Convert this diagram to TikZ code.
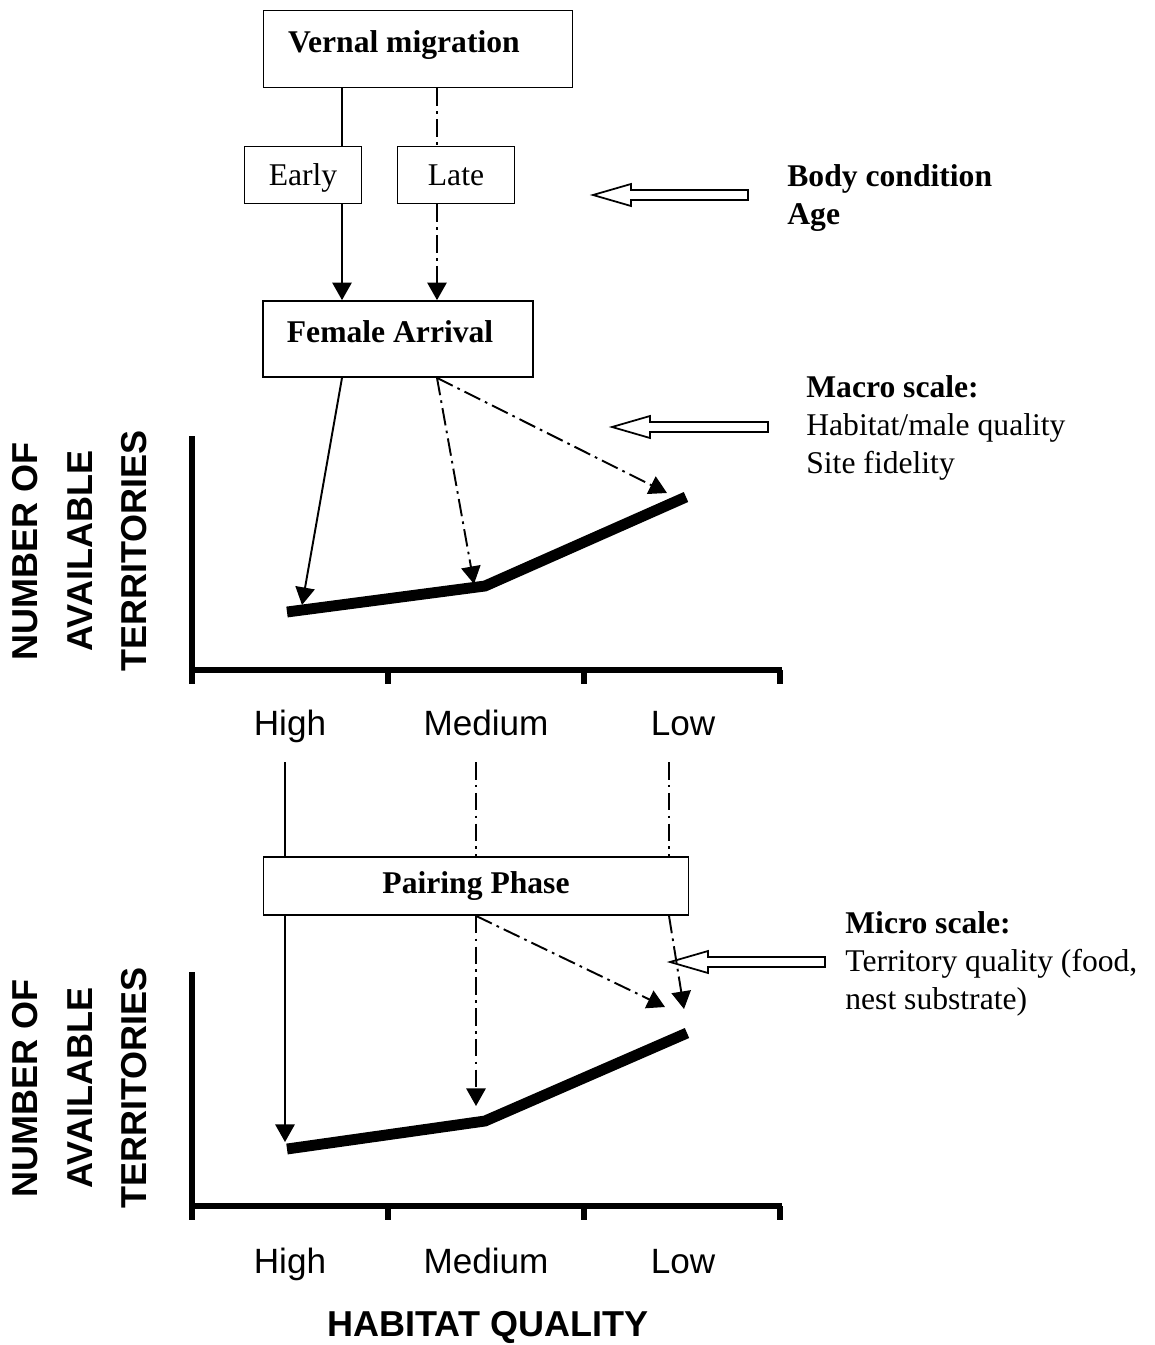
\documentclass[tikz,border=0pt]{standalone}
\usepackage{fontspec}
\setmainfont{Liberation Serif}
\setsansfont{Liberation Sans}
\usetikzlibrary{arrows.meta, positioning, calc}
\newcommand{\openarrow}[3]{%
  \draw[line width=1pt] (#1,#3) -- (#1+38,#3-11) -- (#1+38,#3-5) -- (#2,#3-5)
    -- (#2,#3+5) -- (#1+38,#3+5) -- (#1+38,#3+11) -- cycle;}

\begin{document}
\begin{tikzpicture}[
  x=0.02cm, y=-0.02cm,
  stagebox/.style={rectangle, draw, line width=1pt, inner sep=0pt, align=center,
               font=\fontsize{18}{21}\selectfont\bfseries},
  timebox/.style={rectangle, draw, line width=1pt, inner sep=0pt,
               text height=12pt, text depth=0pt,
               minimum width=2.34cm, minimum height=1.14cm, font=\fontsize{18}{21}\selectfont},
  arrow/.style={-{Triangle[length=10pt, width=11pt]}, line width=1.1pt},
  link/.style={line width=1.1pt},
  latepath/.style={dash pattern=on 10pt off 3pt on 1.5pt off 3pt},
  axis/.style={line width=3.4pt},
  trend/.style={line width=6.2pt},
  level/.style={anchor=base, font=\sffamily\fontsize{20}{24}\selectfont},
  axislabel/.style={font=\sffamily\bfseries\fontsize{20.5}{31}\selectfont, align=center},
  factor/.style={anchor=west, align=left, inner sep=0pt, font=\fontsize{18}{21.5}\selectfont},
]
  \useasboundingbox (0,0) rectangle (1155,1345);

  \node[stagebox, minimum width=6.18cm, minimum height=1.54cm] (vm) at (418,49)
    {\hspace*{-16pt}\raisebox{8pt}{Vernal migration}};
  \node[timebox] (early) at (303,175) {Early};
  \node[timebox] (late) at (456,175) {Late};
  \node[stagebox, minimum width=5.4cm, minimum height=1.52cm] (fa) at (398,339)
    {\hspace*{-9pt}\raisebox{9pt}{Female Arrival}};

  \coordinate (cE) at (342,0);
  \coordinate (cL) at (437,0);
  \draw[link] (vm.south -| cE) -- (early.north -| cE);
  \draw[link, latepath] (vm.south -| cL) -- (late.north -| cL);
  \draw[arrow] (early.south -| cE) -- (fa.north -| cE);
  \draw[arrow, latepath] (late.south -| cL) -- (fa.north -| cL);

  % Macro scale graph
  \draw[axis] (192,436) -- (192,684);
  \draw[axis] (190,670) -- (782,670);
  \foreach \x in {388,584,780}
    \draw[axis] (\x,670) -- (\x,684);
  \coordinate (h1) at (287,612);
  \coordinate (m1) at (485,586);
  \coordinate (l1) at (686,497);
  \draw[trend] (h1) -- (m1) -- (l1);

  \coordinate (aH1) at (302,605);
  \coordinate (aM1) at (474,584);
  \coordinate (aL1) at (667,493);
  \draw[arrow] (fa.south -| cE) -- (aH1);
  \draw[arrow, latepath] (fa.south -| cL) -- (aM1);
  \draw[arrow, latepath] (fa.south -| cL) -- (aL1);

  \node[axislabel, rotate=90] (ylab1) at (80,551) {NUMBER OF\\AVAILABLE\\TERRITORIES};
  \node[level] (hi1) at (290,735) {High};
  \node[level] (me1) at (486,735) {Medium};
  \node[level] (lo1) at (683,735) {Low};

  % Side factors
  \openarrow{593}{748}{195}
  \openarrow{612}{768}{427}
  \openarrow{670}{825}{962}
  \node[factor] (bc) at (787,198) {\textbf{Body condition}\\\textbf{Age}};
  \node[factor] (macro) at (806,428) {\textbf{Macro scale:}\\Habitat/male quality\\Site fidelity};
  \node[factor] (micro) at (845,964) {\textbf{Micro scale:}\\Territory quality (food,\\nest substrate)};

  % Pairing phase
  \node[stagebox, minimum width=8.5cm, minimum height=1.16cm] (pp) at (476,886) {Pairing Phase};
  \coordinate (cH) at (285,762);
  \coordinate (cM) at (476,762);
  \coordinate (cR) at (669,762);
  \draw[link] (cH) -- (pp.north -| cH);
  \draw[link, latepath] (cM) -- (pp.north -| cM);
  \draw[link, latepath] (cR) -- (pp.north -| cR);

  % Micro scale graph
  \draw[axis] (192,972) -- (192,1220);
  \draw[axis] (190,1206) -- (782,1206);
  \foreach \x in {388,584,780}
    \draw[axis] (\x,1206) -- (\x,1220);
  \coordinate (h2) at (287,1149);
  \coordinate (m2) at (485,1121);
  \coordinate (l2) at (687,1033);
  \draw[trend] (h2) -- (m2) -- (l2);

  \coordinate (aH2) at (285,1142);
  \coordinate (aM2) at (476,1106);
  \coordinate (aD2) at (665,1007);
  \coordinate (aL2) at (684,1009);
  \draw[arrow] (pp.south -| cH) -- (aH2);
  \draw[arrow, latepath] (pp.south -| cM) -- (aM2);
  \draw[arrow, latepath] (pp.south -| cM) -- (aD2);
  \draw[arrow, latepath] (pp.south -| cR) -- (aL2);

  \node[axislabel, rotate=90] (ylab2) at (80,1088) {NUMBER OF\\AVAILABLE\\TERRITORIES};
  \node[level] (hi2) at (290,1273) {High};
  \node[level] (me2) at (486,1273) {Medium};
  \node[level] (lo2) at (683,1273) {Low};
  \node[axislabel] (xlab) at (488,1327) {HABITAT QUALITY};
\end{tikzpicture}
\end{document}
